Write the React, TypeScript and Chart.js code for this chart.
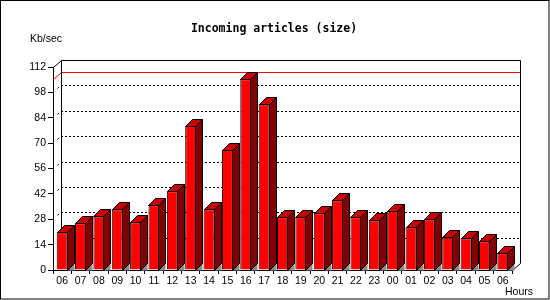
import React, { useEffect, useRef } from 'react';
import { Chart, registerables } from 'chart.js';

Chart.register(...registerables);

const hours = ['06', '07', '08', '09', '10', '11', '12', '13', '14', '15', '16', '17', '18', '19', '20', '21', '22', '23', '00', '01', '02', '03', '04', '05', '06'];
const kbPerSec = [20.8, 25.8, 29.6, 33.5, 26.3, 35.7, 43.4, 79.4, 33.5, 66.4, 105.2, 91.4, 29.1, 29.1, 31.3, 38.5, 29.1, 27.4, 32.4, 23.5, 28.0, 18.0, 17.5, 15.8, 9.2];
const yTicks = [0, 14, 28, 42, 56, 70, 84, 98, 112];
const titleText = 'Incoming articles (size)';
const yUnit = 'Kb/sec';
const xUnit = 'Hours';

const DX = 8; // wall depth
const DY = 7;
const BDX = 7; // bar depth
const BDY = 7;
const LABEL_FONT = '10.5px "Liberation Sans", Arial, sans-serif';

const threeD = {
  id: 'threeD',
  beforeDraw(chart: any) {
    const { ctx, width, height } = chart;
    ctx.save();
    ctx.fillStyle = '#fff';
    ctx.fillRect(0, 0, width, height);
    ctx.strokeStyle = '#000';
    ctx.lineWidth = 1;
    ctx.strokeRect(0.5, 0.5, width - 1.5, height - 1.5);
    ctx.restore();
  },
  beforeDatasetsDraw(chart: any) {
    const { ctx, chartArea } = chart;
    const y = chart.scales.y;
    const L = Math.round(chartArea.left);
    const R = Math.round(chartArea.right);
    const T = Math.round(chartArea.top);
    const B = Math.round(chartArea.bottom);
    ctx.save();
    ctx.lineWidth = 1;
    ctx.strokeStyle = '#000';
    // dotted gridlines on back wall + left wall diagonals
    ctx.setLineDash([2, 2]);
    for (const v of yTicks) {
      if (v === 0 || v === yTicks[yTicks.length - 1]) continue;
      const py = Math.round(y.getPixelForValue(v));
      ctx.beginPath();
      ctx.moveTo(L + DX, py - DY + 0.5);
      ctx.lineTo(R + DX, py - DY + 0.5);
      ctx.stroke();
      ctx.beginPath();
      ctx.moveTo(L + 4.5, py - 3.5);
      ctx.lineTo(L + 6.5, py - 5.5);
      ctx.stroke();
    }
    ctx.setLineDash([]);
    // max line in red
    const maxV = Math.max(...kbPerSec);
    const my = Math.round(y.getPixelForValue(maxV));
    ctx.strokeStyle = '#ff0000';
    ctx.beginPath();
    ctx.moveTo(L + 0.5, my + 0.5);
    ctx.lineTo(L + DX + 0.5, my - DY + 0.5);
    ctx.lineTo(R + DX + 0.5, my - DY + 0.5);
    ctx.stroke();
    // wall outline
    ctx.strokeStyle = '#000';
    ctx.beginPath();
    ctx.moveTo(L + 0.5, T + 0.5);
    ctx.lineTo(L + DX + 0.5, T - DY + 0.5);
    ctx.lineTo(R + DX + 0.5, T - DY + 0.5);
    ctx.lineTo(R + DX + 0.5, B - DY + 0.5);
    ctx.lineTo(R + 0.5, B + 0.5);
    ctx.stroke();
    ctx.beginPath();
    ctx.moveTo(L + DX + 0.5, T - DY + 0.5);
    ctx.lineTo(L + DX + 0.5, B - DY + 0.5);
    ctx.stroke();
    ctx.restore();
  },
  afterDatasetsDraw(chart: any) {
    const { ctx } = chart;
    const meta = chart.getDatasetMeta(0);
    ctx.save();
    ctx.lineWidth = 1;
    ctx.strokeStyle = '#000';
    ctx.lineJoin = 'miter';
    for (const bar of meta.data) {
      const p = bar.getProps(['x', 'y', 'base', 'width'], true);
      const l = Math.round(p.x - p.width / 2) + 0.5;
      const r = Math.round(p.x + p.width / 2) - 0.5;
      const t = Math.round(p.y) + 0.5;
      const b = Math.round(p.base) + 0.5;
      // floor triangle
      ctx.fillStyle = '#8c8c8c';
      ctx.beginPath();
      ctx.moveTo(r, b);
      ctx.lineTo(r + BDX, b - BDY);
      ctx.lineTo(r + BDX, b);
      ctx.closePath();
      ctx.fill();
      // top face
      ctx.fillStyle = '#c80000';
      ctx.beginPath();
      ctx.moveTo(l, t);
      ctx.lineTo(r, t);
      ctx.lineTo(r + BDX, t - BDY);
      ctx.lineTo(l + BDX, t - BDY);
      ctx.closePath();
      ctx.fill();
      ctx.stroke();
      // side face
      ctx.fillStyle = '#800000';
      ctx.beginPath();
      ctx.moveTo(r, t);
      ctx.lineTo(r + BDX, t - BDY);
      ctx.lineTo(r + BDX, b - BDY);
      ctx.lineTo(r, b);
      ctx.closePath();
      ctx.fill();
      ctx.stroke();
    }
    ctx.restore();
  },
  afterDraw(chart: any) {
    const { ctx } = chart;
    ctx.save();
    ctx.fillStyle = '#000';
    ctx.textBaseline = 'alphabetic';
    ctx.font = 'bold 11.5px "DejaVu Sans Mono", "Liberation Mono", monospace';
    ctx.textAlign = 'center';
    ctx.fillText(titleText, 274, 32);
    ctx.font = LABEL_FONT;
    ctx.textAlign = 'left';
    ctx.fillText(yUnit, 30, 42);
    ctx.fillText(xUnit, 505, 295);
    ctx.restore();
  },
};

export default function App() {
  const ref = useRef<HTMLCanvasElement | null>(null);
  useEffect(() => {
    document.body.style.margin = '0';
    const canvas = ref.current!;
    const chart = new Chart(canvas, {
      type: 'bar',
      data: {
        labels: hours,
        datasets: [
          {
            data: kbPerSec,
            backgroundColor: '#ff0000',
            borderColor: '#000',
            borderWidth: 1,
            barPercentage: 0.6,
            categoryPercentage: 1,
          },
        ],
      },
      options: {
        animation: false,
        responsive: false,
        devicePixelRatio: 1,
        layout: { padding: { left: 0, top: 67, right: 38, bottom: 0 } },
        plugins: { legend: { display: false }, tooltip: { enabled: false }, title: { display: false } },
        scales: {
          x: {
            type: 'category',
            afterFit: (s: any) => { s.height = 30; },
            grid: { offset: true, drawOnChartArea: false, drawTicks: true, tickLength: 4, color: '#000' },
            border: { display: true, color: '#000' },
            ticks: { color: '#000', padding: 1, maxRotation: 0, autoSkip: false, font: { family: '"Liberation Sans", Arial, sans-serif', size: 10.5 } },
          },
          y: {
            min: 0,
            max: 112,
            afterFit: (s: any) => { s.width = 53; },
            afterBuildTicks: (s: any) => { s.ticks = yTicks.map((v) => ({ value: v })); },
            grid: { drawOnChartArea: false, drawTicks: true, tickLength: 5, color: '#000' },
            border: { display: true, color: '#000' },
            ticks: { color: '#000', padding: 2, font: { family: '"Liberation Sans", Arial, sans-serif', size: 10.5 } },
          },
        },
      },
      plugins: [threeD],
    });
    return () => chart.destroy();
  }, []);
  return <canvas ref={ref} width={550} height={300} style={{ display: 'block', width: 550, height: 300 }} />;
}
